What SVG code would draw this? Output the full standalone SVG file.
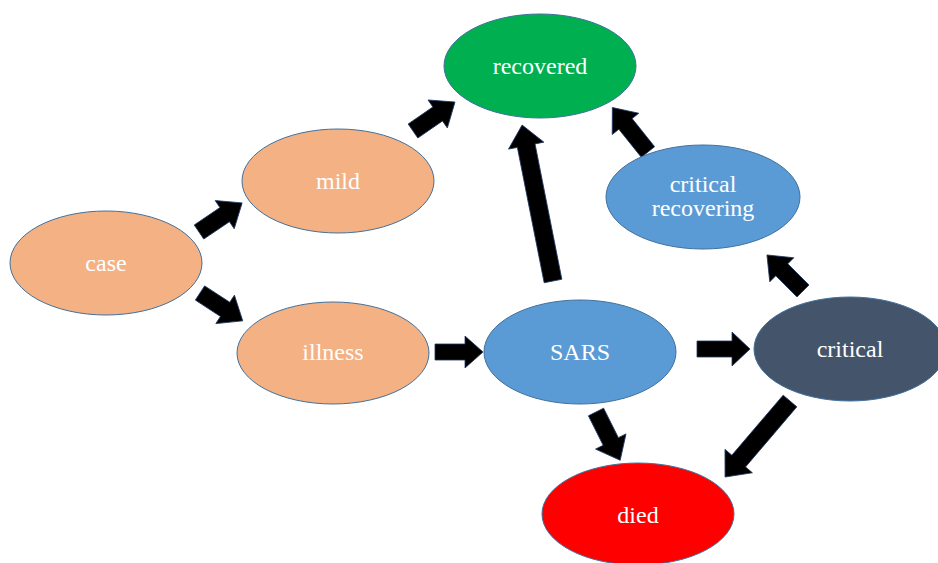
<svg xmlns="http://www.w3.org/2000/svg" width="938" height="563" viewBox="0 0 938 563">
<style>
.n{stroke:#41719C;stroke-width:1}
.t{font-family:"Liberation Serif","Times New Roman",serif;font-size:24px;fill:#fff;text-anchor:middle;dominant-baseline:central}
.a{fill:#000;stroke:#1F3864;stroke-width:0.8;stroke-linejoin:miter}
</style>
<rect width="938" height="563" fill="#fff"/>
<g id="connectors">
<path class="a" transform="translate(199,232) rotate(-34)" d="M0,-8.5 L31,-8.5 L31,-17 L52,0 L31,17 L31,8.5 L0,8.5 Z"/>
<path class="a" transform="translate(200,293) rotate(33.1)" d="M0,-8.5 L30,-8.5 L30,-17 L51,0 L30,17 L30,8.5 L0,8.5 Z"/>
<path class="a" transform="translate(413,131) rotate(-34.6)" d="M0,-8.5 L30,-8.5 L30,-17 L51,0 L30,17 L30,8.5 L0,8.5 Z"/>
<path class="a" transform="translate(435,352) rotate(0)" d="M0,-8 L30,-8 L30,-16 L48,0 L30,16 L30,8 L0,8 Z"/>
<path class="a" transform="translate(553,281) rotate(-101.2)" d="M0,-9 L138,-9 L138,-18 L159,0 L138,18 L138,9 L0,9 Z"/>
<path class="a" transform="translate(648,152) rotate(-128.7)" d="M0,-8.5 L36,-8.5 L36,-17 L57,0 L36,17 L36,8.5 L0,8.5 Z"/>
<path class="a" transform="translate(803,291) rotate(-135)" d="M0,-8.5 L30,-8.5 L30,-17 L51,0 L30,17 L30,8.5 L0,8.5 Z"/>
<path class="a" transform="translate(697,349) rotate(0)" d="M0,-8 L35,-8 L35,-17 L53,0 L35,17 L35,8 L0,8 Z"/>
<path class="a" transform="translate(596,412) rotate(63.4)" d="M0,-8.5 L33,-8.5 L33,-17 L54,0 L33,17 L33,8.5 L0,8.5 Z"/>
<path class="a" transform="translate(790,401) rotate(130.5)" d="M0,-9 L79,-9 L79,-18 L100,0 L79,18 L79,9 L0,9 Z"/>
</g>
<g id="case"><ellipse class="n" cx="106" cy="263" rx="96" ry="52" fill="#F4B183"/><text class="t" x="106" y="263">case</text></g>
<g id="mild"><ellipse class="n" cx="338" cy="181" rx="96" ry="52" fill="#F4B183"/><text class="t" x="338" y="181">mild</text></g>
<g id="illness"><ellipse class="n" cx="333" cy="353" rx="96" ry="51" fill="#F4B183"/><text class="t" x="333" y="352">illness</text></g>
<g id="recovered"><ellipse class="n" cx="540" cy="66" rx="96" ry="52" fill="#00B050"/><text class="t" x="540" y="66">recovered</text></g>
<g id="critical-recovering"><ellipse class="n" cx="703" cy="197" rx="97" ry="52" fill="#5B9BD5"/><text class="t" x="703" y="184">critical</text><text class="t" x="703" y="208">recovering</text></g>
<g id="SARS"><ellipse class="n" cx="580" cy="352" rx="96" ry="52" fill="#5B9BD5"/><text class="t" x="580" y="352">SARS</text></g>
<g id="critical"><ellipse class="n" cx="850" cy="349" rx="96" ry="52" fill="#44546A"/><text class="t" x="850" y="349">critical</text></g>
<g id="died"><ellipse class="n" cx="638" cy="514" rx="96" ry="51" fill="#FF0000"/><text class="t" x="638" y="515">died</text></g>
</svg>
